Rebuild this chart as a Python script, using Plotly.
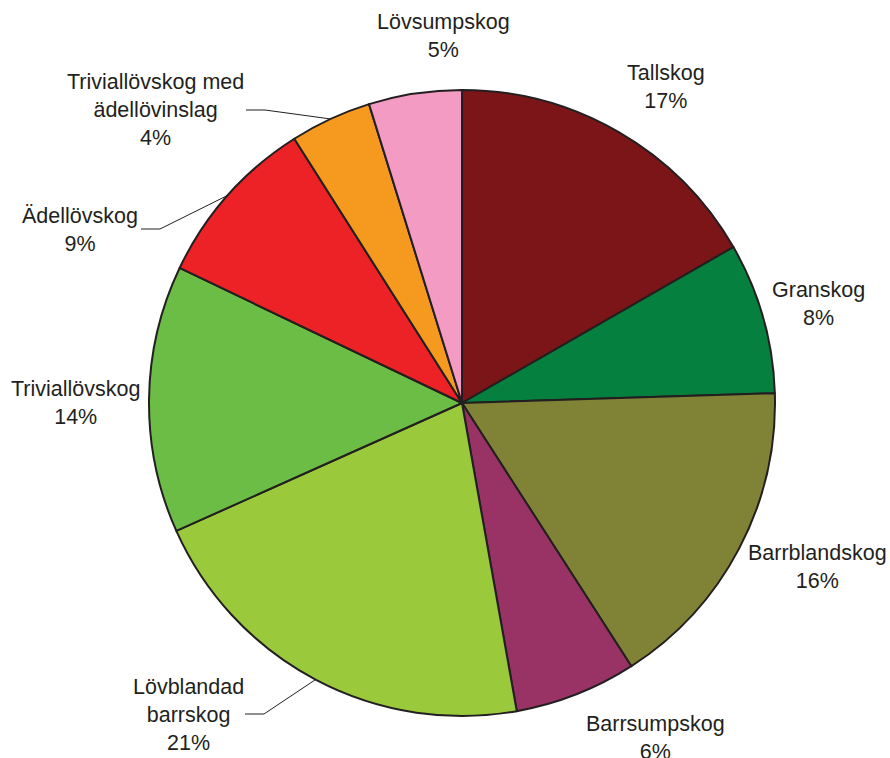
import math
import plotly.graph_objects as go

# ---- data ----
categories = ["Tallskog", "Granskog", "Barrblandskog", "Barrsumpskog",
              "Lövblandad barrskog", "Triviallövskog", "Ädellövskog",
              "Triviallövskog med ädellövinslag", "Lövsumpskog"]
values = [16.7, 7.8, 16.4, 6.3, 21.1, 13.8, 8.9, 4.2, 4.8]
label_text = ["Tallskog", "Granskog", "Barrblandskog", "Barrsumpskog",
              "Lövblandad<br>barrskog", "Triviallövskog", "Ädellövskog",
              "Triviallövskog med<br>ädellövinslag", "Lövsumpskog"]
colors = ["#7B1517", "#06803F", "#808335", "#993366", "#9BC93C",
          "#6BBD45", "#EC2227", "#F6991F", "#F39BC2"]

# ---- layout constants (pixels) ----
W, H = 890, 758
CX, CY, R = 462, 403, 313
TEXT_COLOR = "#231F20"
# label block centres (px)
label_pos = [(666, 87), (818, 304), (817, 567), (655, 738), (188, 715),
             (75, 403), (80, 230), (155, 110), (443, 36)]
# leader line: label-side start and elbow (px), None = no leader
leader = [None, None, None, None, ((245, 714), (264, 714)), None,
          ((141, 229), (160, 229)), ((246, 110), (265, 110)), None]


def px(x):
    return x / W


def py(y):
    return 1 - y / H


total = sum(values)
fig = go.Figure(go.Pie(
    labels=categories, values=values, sort=False, direction="clockwise",
    rotation=0, textinfo="none", hoverinfo="label+percent",
    marker=dict(colors=colors, line=dict(color=TEXT_COLOR, width=2)),
    domain=dict(x=[px(CX - R), px(CX + R)], y=[py(CY + R), py(CY - R)]),
    showlegend=False,
))

annotations = []
shapes = []
cum = 0.0
for i, v in enumerate(values):
    frac = v / total
    pct = round(frac * 100)
    lx, ly = label_pos[i]
    annotations.append(dict(
        x=px(lx), y=py(ly), xref="paper", yref="paper",
        text=f"{label_text[i]}<br>{pct}%", showarrow=False,
        xanchor="center", yanchor="middle", align="center",
        font=dict(family="Liberation Sans, Arial", size=21.5, color=TEXT_COLOR),
    ))
    mid = (cum + frac / 2) * 2 * math.pi
    cum += frac
    if leader[i] is not None:
        (x0, y0), (x1, y1) = leader[i]
        ex = CX + R * math.sin(mid)
        ey = CY - R * math.cos(mid)
        path = (f"M {px(x0)} {py(y0)} L {px(x1)} {py(y1)} "
                f"L {px(ex)} {py(ey)}")
        shapes.append(dict(type="path", xref="paper", yref="paper",
                           path=path, line=dict(color=TEXT_COLOR, width=1)))

fig.update_layout(
    width=W, height=H, margin=dict(l=0, r=0, t=0, b=0),
    paper_bgcolor="white", plot_bgcolor="white",
    annotations=annotations, shapes=shapes,
)
fig.write_html(
    "out.html",
    config={"displayModeBar": False},
    post_script="document.body.style.margin='0';"
                "document.body.style.overflow='hidden';",
)
